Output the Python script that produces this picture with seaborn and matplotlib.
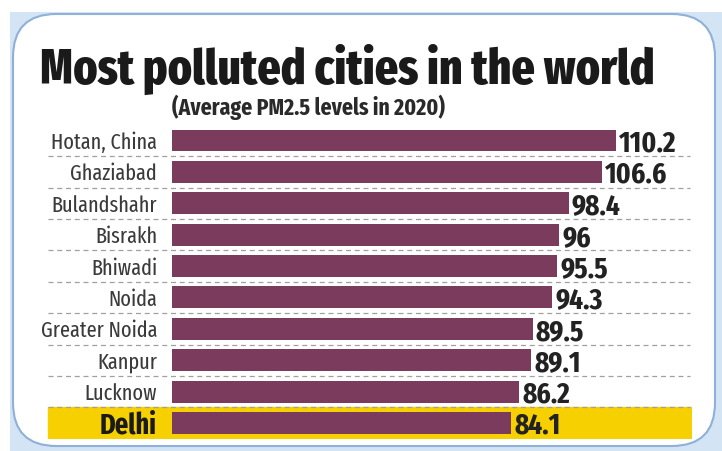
import matplotlib.pyplot as plt
from matplotlib.patches import FancyBboxPatch, Rectangle
import seaborn as sns
import pandas as pd

# ── Data ──────────────────────────────────────────────────────────────────────

cities = ["Hotan, China", "Ghaziabad", "Bulandshahr", "Bisrakh", "Bhiwadi",
          "Noida", "Greater Noida", "Kanpur", "Lucknow", "Delhi"]
pm25 = [110.2, 106.6, 98.4, 96, 95.5, 94.3, 89.5, 89.1, 86.2, 84.1]
value_labels = ["110.2", "106.6", "98.4", "96", "95.5",
                "94.3", "89.5", "89.1", "86.2", "84.1"]
highlight = "Delhi"

TITLE = "Most polluted cities in the world"
SUBTITLE = "(Average PM2.5 levels in 2020)"

BAR = "#7b3b5c"
YELLOW = "#f6d000"
DASH = "#a0a0a0"
FONT = ["Fira Sans Extra Condensed", "DejaVu Sans"]

df = pd.DataFrame({"city": cities, "pm25": pm25})

# ── Style ─────────────────────────────────────────────────────────────────────

sns.set_theme(style="white")
plt.rcParams["font.family"] = FONT

W, H = 722, 451
fig = plt.figure(figsize=(W / 100, H / 100), dpi=100)
fig.patch.set_facecolor("white")

# light-blue backdrop + rounded white card
fig.patches.append(Rectangle((10 / W, 0), 1, 1 - 12 / H, transform=fig.transFigure,
                             facecolor="#d3e4f5", edgecolor="none", zorder=-3))
fig.patches.append(FancyBboxPatch((13 / W, 1 - 446 / H), (715 - 13) / W, (446 - 14) / H,
                                  boxstyle="round,pad=0,rounding_size=0.06",
                                  mutation_aspect=W / H, transform=fig.transFigure,
                                  facecolor="white", edgecolor="#8fb0d8",
                                  linewidth=1.5, zorder=-2))

ax = fig.add_axes([45 / W, 1 - 438.7 / H, (692 - 45) / W, (438.7 - 124.8) / H])
ax.patch.set_alpha(0)

# ── Bars ──────────────────────────────────────────────────────────────────────

sns.barplot(data=df, x="pm25", y="city", orient="h", color=BAR,
            saturation=1, width=0.7, linewidth=0, edgecolor="none",
            ax=ax, zorder=3)

ax.set_xlim(-31.5, 129.0)
ax.set_ylim(len(cities) - 0.5, -0.5)
ax.set_axis_off()

hi = cities.index(highlight)
ax.axhspan(hi - 0.5, hi + 0.5, xmin=3 / 647, xmax=1, color=YELLOW, zorder=1)

for i in range(len(cities) - 1):
    ax.hlines(i + 0.5, -30.7, 128.5, colors=DASH, linestyles=(0, (4, 3)),
              linewidth=0.9, zorder=2)

renderer = fig.canvas.get_renderer()


def fit(t, target_px):
    # rescale a text so its rendered width matches the reference
    w = t.get_window_extent(renderer).width
    t.set_fontsize(t.get_fontsize() * target_px / w)


city_txt, val_txt = [], []
for i, (c, v, lab) in enumerate(zip(cities, pm25, value_labels)):
    city_txt.append(ax.text(-3.7, i, c, ha="right", va="center_baseline",
                            fontsize=16,
                            color="#1a1a1a" if c == highlight else "#3a3a3a",
                            fontweight="bold" if c == highlight else "normal"))
    val_txt.append(ax.text(v + 0.8, i, lab, ha="left", va="center_baseline",
                           fontsize=22, fontweight="bold", color="#222222",
                           zorder=4))

# size labels from one measured reference label each
fit(city_txt[cities.index("Greater Noida")], 117)
fs_city = city_txt[cities.index("Greater Noida")].get_fontsize()
for t in city_txt:
    t.set_fontsize(fs_city)
fit(city_txt[hi], 57)
fit(val_txt[0], 57)
fs_val = val_txt[0].get_fontsize()
for t in val_txt:
    t.set_fontsize(fs_val)

# ── Titles ────────────────────────────────────────────────────────────────────

title = fig.text(40 / W, 1 - 84 / H, TITLE, fontsize=44, fontweight=800,
                 color="#1a1a1a", va="baseline")
fit(title, 615)
sub = fig.text(172 / W, 1 - 115 / H, SUBTITLE, fontsize=14, fontweight="bold",
               color="#2a2a2a", va="baseline")
fit(sub, 273)

fig.savefig("out.png", dpi=100)
